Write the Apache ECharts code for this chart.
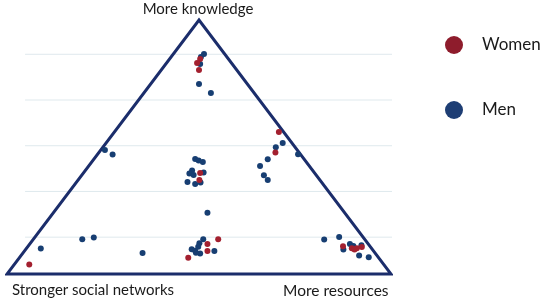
<!DOCTYPE html>
<html><head><meta charset="utf-8">
<script src="https://cdn.jsdelivr.net/npm/echarts@6/dist/echarts.min.js"></script>
<style>html,body{margin:0;padding:0;background:#fff}#c{width:550px;height:302px}</style>
</head><body><div id="c"></div>
<script>
// Corner labels of the triangle
const cornerLabels = ['Stronger social networks', 'More knowledge', 'More resources'];
// Triangle vertices (data units: base 0..100, apex height 100)
const triangleX = [50, 100, 50, 0, 50];
const triangleY = [0, 0, 100, 0, 0];
// Horizontal guide levels
const gridLevels = [14.5, 32.5, 50.5, 68.5, 86.5];
const gridFrom = 4.7, gridTo = 105.7;
const seriesNames = ['Women', 'Men'];

const womenX = [49.5, 50.3, 50.0, 50.3, 50.1, 55.0, 52.2, 52.2, 47.2, 70.8, 69.9, 5.8, 87.5, 89.8, 91.1, 92.4, 90.5];
const womenY = [83.1, 84.6, 80.3, 39.8, 37.0, 13.7, 11.8, 9.1, 6.4, 55.9, 47.8, 3.7, 10.9, 10.1, 10.1, 10.6, 9.6];

const menX = [51.3, 50.5, 50.3, 50.0, 53.1,
  49.0, 49.9, 51.0, 48.2, 47.5, 48.6, 51.2, 47.0, 49.0, 50.4,
  52.2, 51.1, 50.1, 48.1, 49.0, 49.8, 50.3, 49.2, 54.0,
  71.8, 70.0, 75.8, 67.9, 65.9, 66.9, 67.9,
  25.5, 27.5, 19.6, 22.6, 8.8, 35.3,
  82.6, 86.5, 89.3, 90.2, 87.6, 92.3, 91.7, 94.2];
const menY = [86.6, 85.4, 82.7, 74.8, 71.3,
  45.3, 44.7, 44.1, 40.7, 39.6, 39.0, 40.0, 36.2, 35.4, 36.0,
  24.1, 13.7, 12.1, 9.7, 9.2, 10.7, 8.1, 8.4, 9.1,
  51.6, 49.9, 47.1, 45.2, 42.5, 38.9, 37.0,
  48.8, 47.0, 13.7, 14.4, 10.0, 8.3,
  13.6, 14.6, 11.8, 11.0, 9.6, 11.3, 7.3, 6.6];

const zip = (xs, ys) => xs.map((x, i) => [x, ys[i]]);

const chart = echarts.init(document.getElementById('c'), null, {renderer: 'canvas'});

const guideSeries = gridLevels.map(y => ({
  type: 'line', silent: true, clip: false, symbol: 'none', z: 1,
  lineStyle: {color: '#dfe9ed', width: 1},
  data: [[gridFrom, y], [gridTo, y]]
}));

const textBase = {fontFamily: 'Lato', fontSize: 15, fontWeight: 'normal', color: '#1a1a1a'};

chart.setOption({
  animation: false,
  grid: {left: 7, right: 159, top: 20, bottom: 28},
  xAxis: {type: 'value', min: 0, max: 100, show: false},
  yAxis: {type: 'value', min: 0, max: 100, show: false},
  legend: {
    data: [
      {name: seriesNames[0], itemStyle: {color: '#8e1c2c', opacity: 1}},
      {name: seriesNames[1], itemStyle: {color: '#1e3e74', opacity: 1}}
    ],
    orient: 'vertical', left: 440, top: 31,
    icon: 'circle', itemWidth: 18, itemHeight: 18, itemGap: 47,
    textStyle: {fontFamily: 'Lato', fontSize: 17, color: '#1a1a1a', padding: [0, 0, 0, 14]}
  },
  title: [
    {text: cornerLabels[1], left: 198, top: 2, padding: 0, textAlign: 'center', textStyle: textBase},
    {text: cornerLabels[0], left: 12, top: 283, padding: 0, textStyle: textBase},
    {text: cornerLabels[2], left: 283, top: 283, padding: 0, textStyle: Object.assign({}, textBase, {fontSize: 15.5})}
  ],
  series: guideSeries.concat([
    {type: 'line', silent: true, clip: false, symbol: 'none', z: 3,
     lineStyle: {color: '#1b2d6b', width: 3, join: 'miter'},
     data: zip(triangleX, triangleY)},
    {name: seriesNames[1], type: 'scatter', z: 4, symbolSize: 6,
     itemStyle: {color: '#173e72', opacity: 1}, data: zip(menX, menY)},
    {name: seriesNames[0], type: 'scatter', z: 5, symbolSize: 6,
     itemStyle: {color: '#a3202f', opacity: 1}, data: zip(womenX, womenY)}
  ])
});
</script>
</body></html>
